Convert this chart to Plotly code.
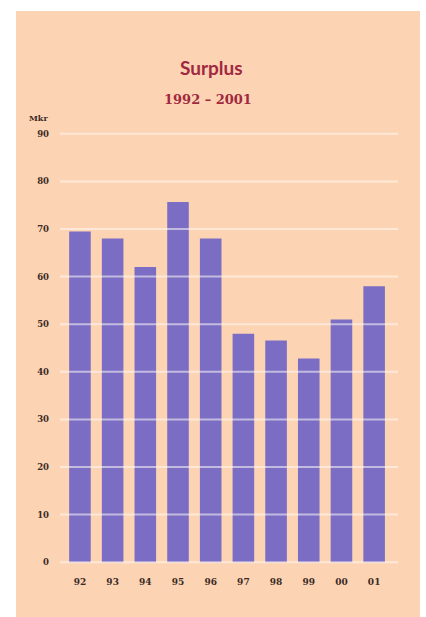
import plotly.graph_objects as go

years = ["92", "93", "94", "95", "96", "97", "98", "99", "00", "01"]
surplus = [69.5, 68, 62, 75.7, 68, 48, 46.6, 42.8, 51, 58]
y_ticks = [0, 10, 20, 30, 40, 50, 60, 70, 80, 90]
y_tick_labels = [str(v) for v in y_ticks]
title_text = "Surplus"
subtitle_text = "1992 – 2001"
unit_text = "Mkr"

PEACH = "#fcd4b4"
BAR = "#7a6dc3"
TXT = "#3b2a25"
RED = "#a2283f"

fig = go.Figure()
fig.add_trace(go.Bar(
    x=years, y=surplus,
    marker=dict(color=BAR, line=dict(width=0)),
    width=0.66,
))

L, R, T, B = 60, 28, 131, 52
W, H = 426, 617
pw = W - L - R
ph = H - T - B

def px_to_paper_x(px):
    return (px - L) / pw

def px_to_paper_y(py):
    return (H - B - py) / ph

fig.add_shape(type="rect", xref="paper", yref="paper",
              x0=px_to_paper_x(16), x1=px_to_paper_x(420),
              y0=px_to_paper_y(617), y1=px_to_paper_y(11),
              fillcolor=PEACH, line=dict(width=0), layer="below")

# gridlines drawn over the bars, as in the original
for v in y_ticks:
    fig.add_shape(type="line", xref="paper", yref="y", x0=0, x1=1, y0=v, y1=v,
                  line=dict(color="rgba(255,250,248,0.55)", width=2), layer="above")

fig.add_annotation(text=f"<b>{title_text}</b>", xref="paper", yref="paper",
                   x=px_to_paper_x(211), y=px_to_paper_y(68), showarrow=False,
                   font=dict(family="Lato", size=19, color=RED),
                   xanchor="center", yanchor="middle")
fig.add_annotation(text=f"<b>{subtitle_text}</b>", xref="paper", yref="paper",
                   x=px_to_paper_x(208), y=px_to_paper_y(99), showarrow=False,
                   font=dict(family="DejaVu Serif", size=13, color=RED),
                   xanchor="center", yanchor="middle")
fig.add_annotation(text=f"<b>{unit_text}</b>", xref="paper", yref="paper",
                   x=px_to_paper_x(38), y=px_to_paper_y(118), showarrow=False,
                   font=dict(family="DejaVu Serif", size=8, color=TXT),
                   xanchor="center", yanchor="middle")

fig.update_layout(
    width=W, height=H,
    margin=dict(l=L, r=R, t=T, b=B, pad=0),
    paper_bgcolor="white",
    plot_bgcolor="rgba(0,0,0,0)",
    showlegend=False,
    xaxis=dict(
        type="category", range=[-0.61, 9.73],
        showgrid=False, zeroline=False, showline=False, ticks="",
        tickfont=dict(family="DejaVu Serif", size=9, color=TXT, weight="bold"),
        ticklabelstandoff=10,
    ),
    yaxis=dict(
        range=[-0.6, 90.6], tickvals=y_ticks, ticktext=y_tick_labels,
        showgrid=False, zeroline=False, showline=False, ticks="",
        tickfont=dict(family="DejaVu Serif", size=8.5, color=TXT, weight="bold"),
        ticklabelstandoff=10,
    ),
)

fig.write_html("out.html")
